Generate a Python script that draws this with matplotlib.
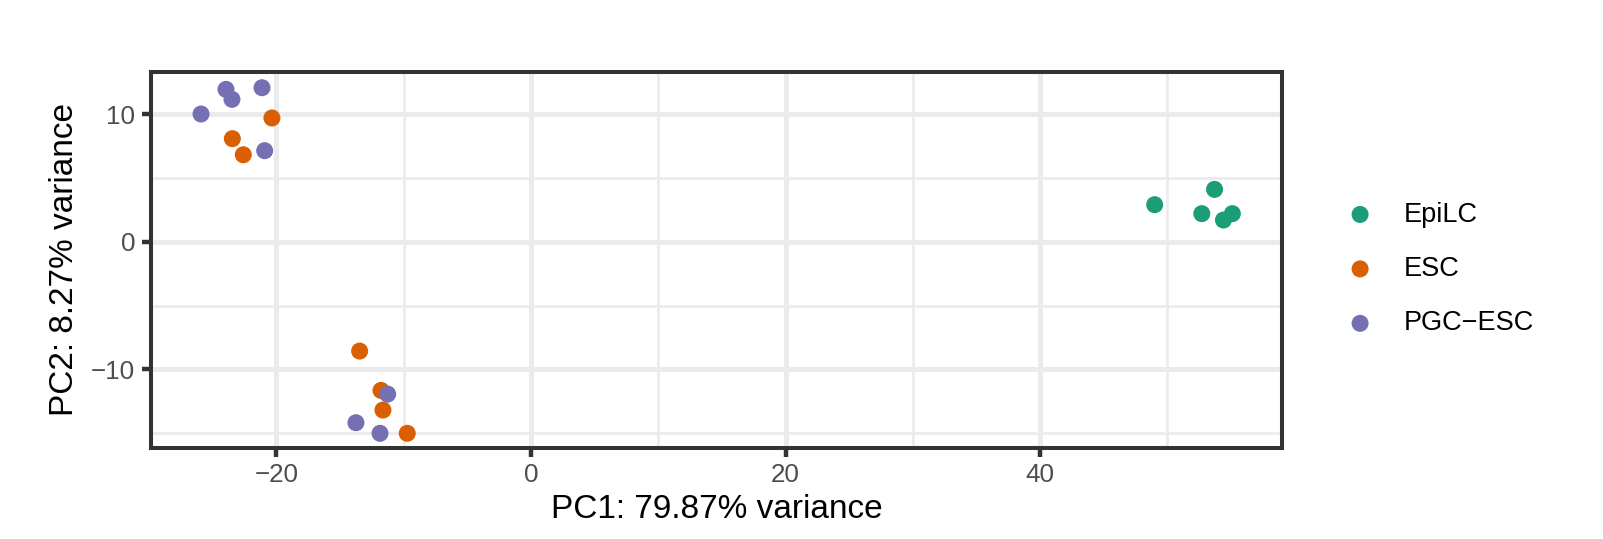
import numpy as np
import matplotlib
matplotlib.use('Agg')
from matplotlib import pyplot as plt

plt.rcParams['font.family'] = ['Liberation Sans', 'DejaVu Sans']

groups = ['EpiLC', 'ESC', 'PGC\u2212ESC']
colors = ['#1B9E77', '#D95F02', '#7570B3']

# PC1 / PC2 coordinates
epilc_pc1 = [49.0, 53.7, 52.7, 54.4, 55.1]
epilc_pc2 = [2.9, 4.1, 2.2, 1.7, 2.2]

esc_pc1 = [-20.35, -23.46, -22.6, -13.46, -11.78, -11.63, -9.72]
esc_pc2 = [9.69, 8.07, 6.81, -8.56, -11.64, -13.18, -15.0]

pgc_pc1 = [-23.96, -23.49, -21.13, -25.92, -20.92, -11.26, -13.75, -11.86]
pgc_pc2 = [11.93, 11.15, 12.06, 10.0, 7.13, -11.93, -14.17, -15.0]

x_ticks = [-20, 0, 20, 40]
y_ticks = [-10, 0, 10]

fig = plt.figure(figsize=(16.03, 5.39), dpi=100)
ax = fig.add_axes([151 / 1603, 1 - 448 / 539, (1282 - 151) / 1603, (448 - 72) / 539])

data = [(epilc_pc1, epilc_pc2), (esc_pc1, esc_pc2), (pgc_pc1, pgc_pc2)]
for (px, py), name, col in zip(data, groups, colors):
    ax.scatter(px, py, s=150, color=col, label=name, edgecolors='none', zorder=3)

ax.set_xlim(-29.85, 59.0)
ax.set_ylim(-16.15, 13.29)
ax.set_xticks(x_ticks)
ax.set_yticks(y_ticks)
ax.set_xticks([-10, 10, 30, 50], minor=True)
ax.set_yticks([-15, -5, 5], minor=True)
ax.set_xticklabels(['\u221220', '0', '20', '40'])
ax.set_yticklabels(['\u221210', '0', '10'])

ax.set_axisbelow(True)
ax.grid(which='major', color='#EBEBEB', linewidth=3.6)
ax.grid(which='minor', color='#EBEBEB', linewidth=1.9)
ax.tick_params(which='minor', length=0)
ax.tick_params(which='major', length=6.5, width=3.2, color='#333333',
               labelsize=18.7, labelcolor='#4D4D4D', pad=4)
ax.tick_params(axis='y', pad=5)
for sp in ax.spines.values():
    sp.set_color('#333333')
    sp.set_linewidth(2.9)

ax.set_xlabel('PC1: 79.87% variance', fontsize=24, labelpad=5)
ax.set_ylabel('PC2: 8.27% variance', fontsize=24, labelpad=8)

fig.legend(loc='center left', bbox_to_anchor=(1333 / 1603, 1 - 269 / 539),
           frameon=False, fontsize=19.5, handletextpad=0.6, labelspacing=1.05,
           scatterpoints=1, borderaxespad=0, borderpad=0)

fig.savefig('out.png', dpi=100)
